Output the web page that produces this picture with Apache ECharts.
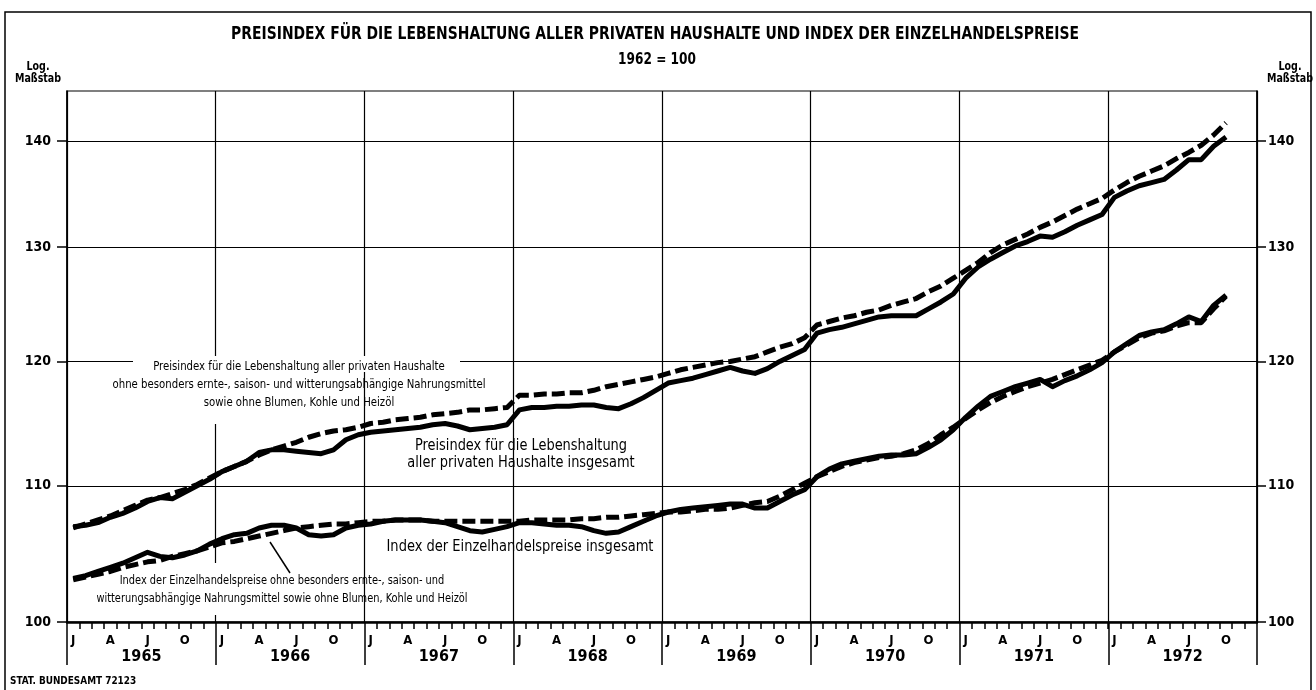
<!DOCTYPE html>
<html>
<head>
<meta charset="utf-8">
<script src="https://cdn.jsdelivr.net/npm/echarts@6/dist/echarts.min.js"></script>
<style>
html,body{margin:0;padding:0;background:#fff;}
#c{width:1316px;height:690px;}
</style>
</head>
<body>
<div id="c"></div>
<script>
// ---- data ----
var years = ['1965','1966','1967','1968','1969','1970','1971','1972'];
var monthLetters = ['J','F','M','A','M','J','J','A','S','O','N','D'];
var monthLabelsShown = ['J','A','J','O'];
var yTicks = [100, 110, 120, 130, 140];

// Preisindex für die Lebenshaltung aller privaten Haushalte insgesamt (solid, upper)
var lebenshaltungInsgesamt = [
  106.9,107.0,107.2,107.6,107.9,108.3,108.8,109.1,109.0,109.5,110.0,110.5,
  111.1,111.5,111.9,112.6,112.8,112.8,112.7,112.6,112.5,112.8,113.6,114.0,
  114.2,114.3,114.4,114.5,114.6,114.8,114.9,114.7,114.4,114.5,114.6,114.8,
  116.0,116.2,116.2,116.3,116.3,116.4,116.4,116.2,116.1,116.5,117.0,117.6,
  118.2,118.4,118.6,118.9,119.2,119.5,119.2,119.0,119.4,120.0,120.5,121.0,
  122.4,122.7,122.9,123.2,123.5,123.8,123.9,123.9,123.9,124.5,125.1,125.8,
  127.2,128.2,128.9,129.5,130.1,130.5,131.0,130.9,131.4,132.0,132.5,133.0,
  134.6,135.2,135.7,136.0,136.3,137.2,138.2,138.2,139.5,140.4
];
// ... ohne besonders ernte-, saison- und witterungsabhängige Nahrungsmittel ... (dashed, upper)
var lebenshaltungOhne = [
  106.8,107.1,107.4,107.7,108.1,108.5,108.9,109.1,109.4,109.7,110.1,110.6,
  111.1,111.5,111.9,112.4,112.8,113.1,113.4,113.8,114.1,114.3,114.4,114.6,
  114.9,115.0,115.2,115.3,115.4,115.6,115.7,115.8,116.0,116.0,116.1,116.2,
  117.2,117.2,117.3,117.3,117.4,117.4,117.6,117.9,118.1,118.3,118.5,118.7,
  119.0,119.3,119.5,119.7,119.9,120.0,120.2,120.4,120.8,121.2,121.5,122.0,
  123.1,123.4,123.7,123.9,124.2,124.4,124.8,125.1,125.4,126.0,126.5,127.2,
  127.9,128.6,129.5,130.2,130.7,131.2,131.8,132.3,132.9,133.5,134.0,134.5,
  135.3,136.0,136.6,137.1,137.6,138.3,138.9,139.6,140.6,141.8
];
// Index der Einzelhandelspreise insgesamt (solid, lower)
var einzelhandelInsgesamt = [
  103.1,103.3,103.6,103.9,104.2,104.6,105.0,104.7,104.6,104.8,105.1,105.6,
  106.0,106.3,106.4,106.8,107.0,107.0,106.8,106.3,106.2,106.3,106.8,107.0,
  107.1,107.3,107.4,107.4,107.4,107.3,107.2,106.9,106.6,106.5,106.7,106.9,
  107.2,107.2,107.1,107.0,107.0,106.9,106.6,106.4,106.5,106.9,107.3,107.7,
  108.0,108.2,108.3,108.4,108.5,108.6,108.6,108.3,108.3,108.8,109.3,109.7,
  110.7,111.3,111.7,111.9,112.1,112.3,112.4,112.4,112.5,113.0,113.6,114.4,
  115.4,116.3,117.1,117.5,117.9,118.2,118.5,117.9,118.4,118.8,119.3,119.9,
  120.8,121.5,122.2,122.5,122.7,123.2,123.8,123.4,124.8,125.7
];
// Index der Einzelhandelspreise ohne besonders ... (dashed, lower)
var einzelhandelOhne = [
  103.0,103.2,103.4,103.6,103.9,104.1,104.3,104.4,104.7,104.9,105.1,105.4,
  105.7,105.8,106.0,106.2,106.4,106.6,106.8,106.9,107.0,107.1,107.1,107.2,
  107.3,107.3,107.4,107.4,107.4,107.3,107.3,107.3,107.3,107.3,107.3,107.3,
  107.3,107.4,107.4,107.4,107.4,107.5,107.5,107.6,107.6,107.7,107.8,107.9,
  108.0,108.0,108.1,108.2,108.2,108.3,108.5,108.7,108.8,109.2,109.7,110.2,
  110.7,111.1,111.5,111.8,112.0,112.2,112.3,112.5,112.8,113.3,114.0,114.6,
  115.3,116.0,116.6,117.1,117.5,117.9,118.2,118.5,118.9,119.3,119.7,120.1,
  120.8,121.4,122.0,122.4,122.6,123.0,123.3,123.3,124.5,125.6
];

// ---- chart ----
var FONT = "'Liberation Sans Narrow','DejaVu Sans Condensed','Roboto Condensed',sans-serif";
var months = [];
years.forEach(function(y){ monthLetters.forEach(function(m){ months.push(m); }); });

var chart = echarts.init(document.getElementById('c'), null, {renderer:'canvas'});

function lineSeries(name, data, dashed){
  return {
    name: name, type: 'line', data: data, xAxisIndex: 0, yAxisIndex: 0,
    symbol: 'none', smooth: false, z: 3,
    lineStyle: { color: '#000', width: 5, type: dashed ? [13, 5] : 'solid', cap: 'butt', join: 'round' }
  };
}

var yAxisBase = function(pos, margin, tickLen){
  return {
    type: 'log', logBase: 10, min: 100, max: 145, position: pos,
    axisLine: { show: true, lineStyle: { color: '#000', width: 1.5 } },
    axisTick: { show: true, length: tickLen, customValues: yTicks, lineStyle: { color: '#000', width: 1.5 } },
    axisLabel: { customValues: yTicks, margin: margin, color: '#000', fontFamily: FONT, fontWeight: 'bold', fontSize: 14 },
    splitLine: { show: pos === 'left', lineStyle: { color: '#000', width: 1.2 } },
    minorTick: { show: false }, minorSplitLine: { show: false }
  };
};

function txt(x, y, text, font, sx, extra){
  var o = { type: 'text', z: 4, x: x, y: y, scaleX: sx,
    style: { text: text, font: font, fill: '#000', textAlign: 'center', textVerticalAlign: 'middle' } };
  if (extra) { for (var k in extra) o.style[k] = extra[k]; }
  return o;
}

var option = {
  backgroundColor: '#fff',
  animation: false,
  grid: { left: 67, right: 59, top: 91, bottom: 68, show: true, borderColor: '#000', borderWidth: 1.2, backgroundColor: 'transparent' },
  xAxis: [
    {
      type: 'category', data: months, boundaryGap: true, position: 'bottom',
      axisLine: { show: true, lineStyle: { color: '#000', width: 2.5 } },
      axisTick: { show: true, interval: 0, length: 7, lineStyle: { color: '#000', width: 1.5 } },
      axisLabel: {
        interval: function(i){ return i % 3 === 0; },
        formatter: function(v, i){ return monthLabelsShown[(i % 12) / 3]; },
        margin: 12, color: '#000', fontFamily: FONT, fontWeight: 'bold', fontSize: 13
      },
      splitLine: { show: true, interval: function(i){ return i % 12 === 0; }, lineStyle: { color: '#000', width: 1.2 } }
    },
    {
      type: 'category', data: years, boundaryGap: true, position: 'bottom',
      axisLine: { show: false },
      axisTick: { show: true, interval: 0, length: 43, lineStyle: { color: '#000', width: 1.5 } },
      axisLabel: { margin: 27, color: '#000', fontFamily: FONT, fontWeight: 'bold', fontSize: 16 },
      splitLine: { show: false }
    }
  ],
  yAxis: [ yAxisBase('left', 16, 10), yAxisBase('right', 11, 9) ],
  series: [
    lineSeries('Preisindex für die Lebenshaltung aller privaten Haushalte insgesamt', lebenshaltungInsgesamt, false),
    lineSeries('Preisindex für die Lebenshaltung ohne saisonabhängige Nahrungsmittel', lebenshaltungOhne, true),
    lineSeries('Index der Einzelhandelspreise insgesamt', einzelhandelInsgesamt, false),
    lineSeries('Index der Einzelhandelspreise ohne saisonabhängige Nahrungsmittel', einzelhandelOhne, true)
  ],
  graphic: [
    { type: 'polyline', z: 0, shape: { points: [[5,690],[5,12],[1311,12],[1311,690]] }, style: { stroke: '#000', lineWidth: 1.5, fill: null } },
    txt(655, 35, 'PREISINDEX FÜR DIE LEBENSHALTUNG ALLER PRIVATEN HAUSHALTE UND INDEX DER EINZELHANDELSPREISE', 'bold 17px ' + FONT, 0.91),
    txt(657, 60, '1962 = 100', 'bold 15px ' + FONT, 0.9),
    txt(38, 73, 'Log.\nMaßstab', 'bold 12px ' + FONT, 0.88, { lineHeight: 12 }),
    txt(1290, 73, 'Log.\nMaßstab', 'bold 12px ' + FONT, 0.88, { lineHeight: 12 }),
    // masks behind annotation boxes (hide grid lines only)
    { type: 'rect', z: 1, shape: { x: 133, y: 356, width: 327, height: 16 }, style: { fill: '#fff' } },
    { type: 'rect', z: 1, shape: { x: 210, y: 356, width: 14, height: 68 }, style: { fill: '#fff' } },
    { type: 'rect', z: 1, shape: { x: 210, y: 563, width: 14, height: 52 }, style: { fill: '#fff' } },
    txt(299, 385, 'Preisindex für die Lebenshaltung aller privaten Haushalte\nohne besonders ernte-, saison- und witterungsabhängige Nahrungsmittel\nsowie ohne Blumen, Kohle und Heizöl', '12px ' + FONT, 0.94, { lineHeight: 18 }),
    txt(521, 454, 'Preisindex für die Lebenshaltung\naller privaten Haushalte insgesamt', '16px ' + FONT, 0.9, { lineHeight: 17 }),
    txt(520, 547, 'Index der Einzelhandelspreise insgesamt', '16px ' + FONT, 0.905),
    txt(282, 590, 'Index der Einzelhandelspreise ohne besonders ernte-, saison- und\nwitterungsabhängige Nahrungsmittel sowie ohne Blumen, Kohle und Heizöl', '12px ' + FONT, 0.91, { lineHeight: 18 }),
    { type: 'line', z: 4, shape: { x1: 270, y1: 542, x2: 290, y2: 573 }, style: { stroke: '#000', lineWidth: 1.5 } },
    { type: 'text', z: 4, x: 10, y: 681, scaleX: 0.9, style: { text: 'STAT. BUNDESAMT 72123', font: 'bold 11px ' + FONT, fill: '#000', textAlign: 'left', textVerticalAlign: 'middle' } }
  ]
};
chart.setOption(option);
</script>
</body>
</html>
